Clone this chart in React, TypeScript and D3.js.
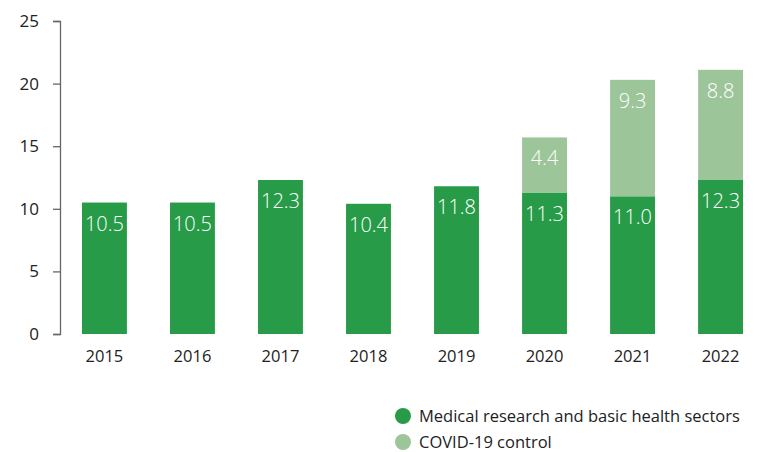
import { useEffect, useRef } from "react";
import * as d3 from "d3";

const years = ["2015", "2016", "2017", "2018", "2019", "2020", "2021", "2022"];
const medical = [10.5, 10.5, 12.3, 10.4, 11.8, 11.3, 11.0, 12.3];
const covid = [0, 0, 0, 0, 0, 4.4, 9.3, 8.8];
const yTicks = [0, 5, 10, 15, 20, 25];
const seriesNames = ["Medical research and basic health sectors", "COVID-19 control"];
const colors = ["#279b48", "#9dc59a"];

const W = 765;
const H = 452;

export default function App() {
  const svgRef = useRef<SVGSVGElement | null>(null);

  useEffect(() => {
    if (!svgRef.current) return;
    const svg = d3.select(svgRef.current);
    svg.selectAll("*").remove();

    const font = "'Open Sans', sans-serif";
    const x = d3.scaleBand<string>().domain(years).range([60, 765]).paddingInner(0.49).paddingOuter(0.25);
    const y = d3.scaleLinear().domain([0, 25]).range([334, 21]);

    // y axis
    const yAxis = svg
      .append("g")
      .attr("transform", "translate(60,0)")
      .call(d3.axisLeft(y).tickValues(yTicks).tickSize(7).tickPadding(14));
    yAxis.select(".domain").attr("stroke", "#666").attr("stroke-width", 1.3);
    yAxis.selectAll(".tick line").attr("stroke", "#666").attr("stroke-width", 1.3);
    yAxis.selectAll("text").attr("font-family", font).attr("font-size", 17).attr("fill", "#222");

    // x labels
    svg
      .append("g")
      .selectAll("text")
      .data(years)
      .join("text")
      .attr("x", (d) => (x(d) ?? 0) + x.bandwidth() / 2)
      .attr("y", 362)
      .attr("text-anchor", "middle")
      .attr("font-family", font)
      .attr("font-size", 16.5)
      .attr("fill", "#222")
      .text((d) => d);

    const stacks = years.map((yr, i) => ({
      yr,
      parts: [
        { v: medical[i], y0: 0, y1: medical[i], c: colors[0] },
        { v: covid[i], y0: medical[i], y1: medical[i] + covid[i], c: colors[1] },
      ].filter((p) => p.v > 0),
    }));

    const g = svg.append("g");
    stacks.forEach((s) => {
      s.parts.forEach((p) => {
        const bx = x(s.yr) ?? 0;
        g.append("rect")
          .attr("x", bx)
          .attr("y", y(p.y1))
          .attr("width", x.bandwidth())
          .attr("height", y(p.y0) - y(p.y1))
          .attr("fill", p.c);
        g.append("text")
          .attr("x", bx + x.bandwidth() / 2)
          .attr("y", y(p.y1) + 28)
          .attr("text-anchor", "middle")
          .attr("font-family", font)
          .attr("font-weight", 300)
          .attr("font-size", 20)
          .attr("fill", "#fff")
          .text(p.v.toFixed(1));
      });
    });

    // legend
    const lg = svg.append("g");
    seriesNames.forEach((name, i) => {
      const ly = 416 + i * 26;
      lg.append("circle").attr("cx", 403).attr("cy", ly).attr("r", 8).attr("fill", colors[i]);
      lg.append("text")
        .attr("x", 419)
        .attr("y", ly + 6)
        .attr("font-family", font)
        .attr("font-size", 16.5)
        .attr("fill", "#222")
        .text(name);
    });
  }, []);

  return (
    <svg
      ref={svgRef}
      width={W}
      height={H}
      style={{ position: "absolute", left: 0, top: 0, background: "#fff" }}
    />
  );
}
